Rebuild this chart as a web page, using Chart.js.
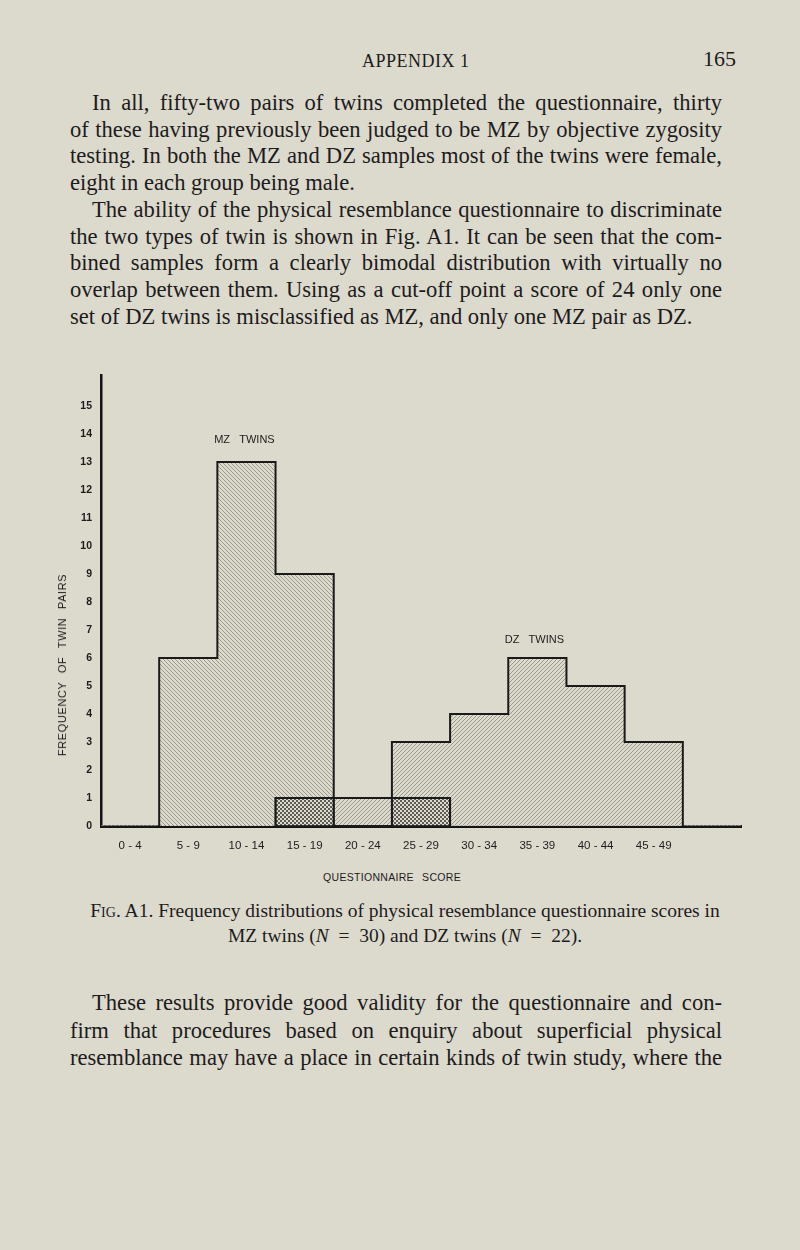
<!DOCTYPE html>
<html>
<head>
<meta charset="utf-8">
<script src="https://cdn.jsdelivr.net/npm/chart.js@4.4.1/dist/chart.umd.min.js"></script>
<style>
  html, body { margin:0; padding:0; }
  body { width:800px; height:1250px; background:#dcd9cd; position:relative; overflow:hidden;
         font-family:"Liberation Serif","Times New Roman",serif; color:#1c1c1c; }
  .ln { position:absolute; left:70px; width:652px; font-size:22.6px; line-height:26px; height:26px;
        text-align:justify; text-align-last:justify; white-space:nowrap; }
  .ln.first { left:92px; width:630px; }
  .ln.last { text-align-last:left; }
  .sans { font-family:"Liberation Sans", Arial, sans-serif; }
  #chartBox { position:absolute; left:0; top:360px; width:800px; height:500px; }
</style>
</head>
<body>
<div style="position:absolute;left:362px;top:49px;font-size:18px;letter-spacing:0.5px;line-height:24px;">APPENDIX 1</div>
<div style="position:absolute;left:703px;top:46px;font-size:22px;line-height:26px;">165</div>

<div class="ln first" style="top:90px">In all, fifty-two pairs of twins completed the questionnaire, thirty</div>
<div class="ln" style="top:117px">of these having previously been judged to be MZ by objective zygosity</div>
<div class="ln" style="top:143px">testing. In both the MZ and DZ samples most of the twins were female,</div>
<div class="ln last" style="top:170px">eight in each group being male.</div>
<div class="ln first" style="top:197px">The ability of the physical resemblance questionnaire to discriminate</div>
<div class="ln" style="top:224px">the two types of twin is shown in Fig. A1. It can be seen that the com-</div>
<div class="ln" style="top:250px">bined samples form a clearly bimodal distribution with virtually no</div>
<div class="ln" style="top:277px">overlap between them. Using as a cut-off point a score of 24 only one</div>
<div class="ln last" style="top:304px">set of DZ twins is misclassified as MZ, and only one MZ pair as DZ.</div>

<div id="chartBox"><canvas id="c" width="800" height="500"></canvas></div>

<div class="sans" style="position:absolute;left:62px;top:665px;width:0;height:0;">
  <div style="position:absolute;transform:translate(-50%,-50%) rotate(-90deg);white-space:nowrap;font-size:11px;letter-spacing:0.6px;word-spacing:5px;">FREQUENCY OF TWIN PAIRS</div>
</div>
<div class="sans" style="position:absolute;left:392px;top:877px;width:0;height:0;">
  <div style="position:absolute;transform:translate(-50%,-50%);white-space:nowrap;font-size:10.5px;letter-spacing:0.3px;word-spacing:5px;">QUESTIONNAIRE SCORE</div>
</div>

<div style="position:absolute;left:0;width:810px;top:898px;font-size:19.5px;line-height:25px;text-align:center;">
  <span style="font-variant:small-caps">Fig.</span> A1. Frequency distributions of physical resemblance questionnaire scores in<br>
  MZ twins (<i>N</i>&ensp;=&ensp;30) and DZ twins (<i>N</i>&ensp;=&ensp;22).
</div>

<div class="ln first" style="top:990px">These results provide good validity for the questionnaire and con-</div>
<div class="ln" style="top:1018px">firm that procedures based on enquiry about superficial physical</div>
<div class="ln" style="top:1045px">resemblance may have a place in certain kinds of twin study, where the</div>

<script>
// ---- data ----
const categories = ['0 - 4','5 - 9','10 - 14','15 - 19','20 - 24','25 - 29','30 - 34','35 - 39','40 - 44','45 - 49',''];
const mzValues   = [0, 6, 13, 9, 0, 1, 0, 0, 0, 0, 0];
const dzValues   = [0, 0, 0, 1, 1, 3, 4, 6, 5, 3, 0];
const overlapValues = [0, 0, 0, 1, 0, 1, 0, 0, 0, 0, 0];
const yTicks = [0,1,2,3,4,5,6,7,8,9,10,11,12,13,14,15];
const seriesLabels = ['MZ TWINS', 'DZ TWINS'];

const BG = '#dcd9cd';
function hatch(dir) {
  const s = 4, c = document.createElement('canvas');
  c.width = s; c.height = s;
  const g = c.getContext('2d');
  g.fillStyle = BG; g.fillRect(0,0,s,s);
  g.strokeStyle = '#9c998f'; g.lineWidth = 1;
  g.beginPath();
  for (let k=-1;k<=1;k++){
    if (dir === 'back') { g.moveTo(k*s,0); g.lineTo(k*s+s,s); }
    else { g.moveTo(k*s,s); g.lineTo(k*s+s,0); }
  }
  g.stroke();
  return g.createPattern(c,'repeat');
}
function dots() {
  const c = document.createElement('canvas'); c.width = 4; c.height = 4;
  const g = c.getContext('2d');
  g.fillStyle = BG; g.fillRect(0,0,4,4);
  g.fillStyle = '#5e5c56';
  g.fillRect(0,0,2,2); g.fillRect(2,2,2,2);
  return g.createPattern(c,'repeat');
}

const outlinePlugin = {
  id:'outline',
  afterDatasetsDraw(chart) {
    const x = chart.scales.x, y = chart.scales.y, ctx = chart.ctx;
    const half = x.width / categories.length / 2;
    const y0 = y.getPixelForValue(0);
    [mzValues, dzValues].forEach(vals => {
      let first = vals.findIndex(v => v > 0);
      let last = vals.length - 1 - [...vals].reverse().findIndex(v => v > 0);
      ctx.save();
      ctx.strokeStyle = '#1a1a1a'; ctx.lineWidth = 2; ctx.lineJoin = 'miter';
      ctx.beginPath();
      ctx.moveTo(x.getPixelForValue(first) - half, y0);
      for (let i = first; i <= last; i++) {
        const py = y.getPixelForValue(vals[i]);
        ctx.lineTo(x.getPixelForValue(i) - half, py);
        ctx.lineTo(x.getPixelForValue(i) + half, py);
      }
      ctx.lineTo(x.getPixelForValue(last) + half, y0);
      ctx.stroke();
      ctx.restore();
    });
    ctx.save();
    ctx.strokeStyle = '#1a1a1a'; ctx.lineWidth = 1.6;
    overlapValues.forEach((v,i) => {
      if (v > 0) {
        const l = x.getPixelForValue(i) - half, t = y.getPixelForValue(v);
        ctx.strokeRect(l, t, half*2, y0 - t);
      }
    });
    ctx.restore();
    ctx.save();
    ctx.fillStyle = '#1c1c1c';
    ctx.font = '11px "Liberation Sans", Arial, sans-serif';
    ctx.textBaseline = 'middle';
    const drawLabel = (txt, cx, cy) => {
      const parts = txt.split(' ');
      const w = ctx.measureText(parts.join('   ')).width;
      ctx.textAlign = 'left';
      let px = cx - w/2;
      parts.forEach(p => { ctx.fillText(p, px, cy); px += ctx.measureText(p + '   ').width; });
    };
    drawLabel(seriesLabels[0], x.getPixelForValue(2) - 2, y.getPixelForValue(13) - 22);
    drawLabel(seriesLabels[1], x.getPixelForValue(7) - 3, y.getPixelForValue(6) - 18);
    ctx.restore();
  }
};

new Chart(document.getElementById('c'), {
  type:'bar',
  data:{
    labels: categories,
    datasets:[
      { label:'DZ', data: dzValues, backgroundColor: hatch('fwd'), borderWidth:0, order:3 },
      { label:'MZ', data: mzValues, backgroundColor: hatch('back'), borderWidth:0, order:2 },
      { label:'Overlap', data: overlapValues, backgroundColor: dots(), borderWidth:0, order:1 }
    ]
  },
  options:{
    responsive:false, animation:false, devicePixelRatio:1,
    layout:{ padding:{ top:10, right:59, left:0, bottom:0 } },
    datasets:{ bar:{ grouped:false, categoryPercentage:1, barPercentage:1 } },
    plugins:{ legend:{display:false}, tooltip:{enabled:false}, title:{display:false} },
    scales:{
      x:{
        grid:{ display:false, drawTicks:false },
        border:{ display:true, color:'#141414', width:3 },
        ticks:{ padding:13, color:'#1c1c1c', maxRotation:0, autoSkip:false,
                font:{ family:'"Liberation Sans", Arial, sans-serif', size:11.5 } },
        afterFit(s){ s.height = 34; }
      },
      y:{
        min:0, max:16.1,
        grid:{ display:false, drawTicks:false },
        border:{ display:true, color:'#141414', width:2.5 },
        ticks:{ stepSize:1, padding:9, color:'#1c1c1c', autoSkip:false,
                font:{ family:'"Liberation Sans", Arial, sans-serif', size:10.5, weight:'bold' },
                callback:(v) => yTicks.includes(v) ? String(v) : '' },
        afterFit(s){ s.width = 101; }
      }
    }
  },
  plugins:[outlinePlugin]
});
</script>
</body>
</html>
